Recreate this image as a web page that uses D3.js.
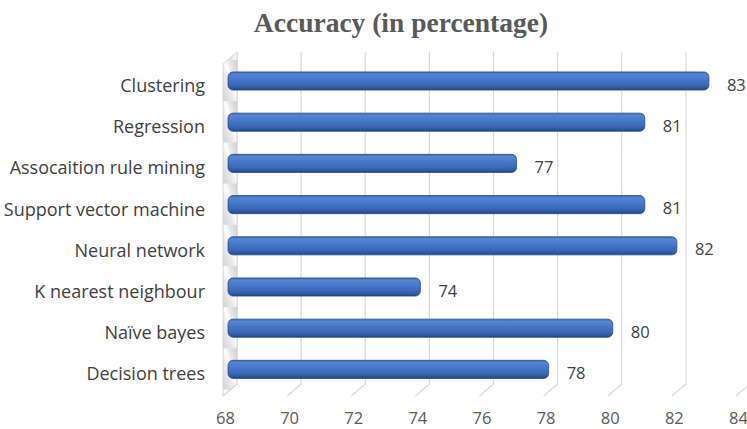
<!DOCTYPE html>
<html>
<head>
<meta charset="utf-8">
<script src="https://cdn.jsdelivr.net/npm/d3@7"></script>
<style>
  html, body { margin: 0; padding: 0; background: #fff; }
  svg { display: block; }
</style>
</head>
<body>
<script>
// Accuracy of data-mining techniques (percent)
const categories = [
  "Clustering",
  "Regression",
  "Assocaition rule mining",
  "Support vector machine",
  "Neural network",
  "K nearest neighbour",
  "Naïve bayes",
  "Decision trees"
];
const accuracy = [83, 81, 77, 81, 82, 74, 80, 78];
const tickValues = [68, 70, 72, 74, 76, 78, 80, 82, 84];
const chartTitle = "Accuracy (in percentage)";

const W = 747, H = 429;
const svg = d3.select("body").append("svg").attr("width", W).attr("height", H);

const labelFont = "'Open Sans', Lato, sans-serif";

// 3D box: front face, back wall and depth offset between them
const depthDx = 14, depthDy = -12;
const floorFrontY = 396;
const floorBackY = floorFrontY + depthDy;
const wallTopBack = 52;

const xFront = d3.scaleLinear().domain([68, 84]).range([223, 736]);
const xBack = v => xFront(v) + depthDx;
const xBar = d3.scaleLinear().domain([68, 84]).range([228, 741]);

const y = d3.scaleBand().domain(categories).range([60.4, 390]).paddingInner(0.56).paddingOuter(0.28);

const defs = svg.append("defs");

// cylinder shading for bars
const barGrad = defs.append("linearGradient").attr("id", "barGrad")
  .attr("x1", 0).attr("y1", 0).attr("x2", 0).attr("y2", 1);
[[0, "#3a64ad"], [0.12, "#5585d3"], [0.35, "#4a7acb"], [0.7, "#3c69b9"], [0.9, "#2d569f"], [1, "#1f3f78"]]
  .forEach(([o, c]) => barGrad.append("stop").attr("offset", o).attr("stop-color", c));

// side wall shading: light grey with diagonal highlights
const wallPat = defs.append("pattern").attr("id", "wallPat")
  .attr("patternUnits", "userSpaceOnUse").attr("width", 14).attr("height", 41.2)
  .attr("x", 223).attr("y", 60);
const wallGrad = defs.append("linearGradient").attr("id", "wallGrad")
  .attr("x1", 0).attr("y1", 1).attr("x2", 1).attr("y2", 0);
[[0, "#d4d4d4"], [0.4, "#ececec"], [0.55, "#ffffff"], [0.7, "#e8e8e8"], [1, "#cfcfcf"]]
  .forEach(([o, c]) => wallGrad.append("stop").attr("offset", o).attr("stop-color", c));
wallPat.append("rect").attr("width", 14).attr("height", 41.2).attr("fill", "url(#wallGrad)");

// title
svg.append("text")
  .attr("x", 401).attr("y", 32)
  .attr("text-anchor", "middle")
  .attr("font-family", "'Liberation Serif', 'Times New Roman', serif")
  .attr("font-weight", "bold")
  .attr("font-size", 27.5)
  .attr("fill", "#595959")
  .text(chartTitle);

// back-wall gridlines and their floor ticks
const grid = svg.append("g").attr("stroke", "#d9d9d9").attr("stroke-width", 1.2).attr("fill", "none");
grid.selectAll("path").data(tickValues).join("path")
  .attr("d", v => `M${xBack(v)},${wallTopBack} L${xBack(v)},${floorBackY} L${xFront(v)},${floorFrontY}`);

// left side wall
svg.append("path")
  .attr("d", `M${xFront(68)},${floorFrontY} L${xFront(68)},${wallTopBack - depthDy} L${xBack(68)},${wallTopBack} L${xBack(68)},${floorBackY} Z`)
  .attr("fill", "url(#wallPat)")
  .attr("stroke", "#d0d0d0").attr("stroke-width", 0.8);

// bars
const bh = y.bandwidth();
svg.append("g").selectAll("rect").data(categories).join("rect")
  .attr("x", xBar(68))
  .attr("y", d => y(d))
  .attr("width", (d, i) => xBar(accuracy[i]) - xBar(68))
  .attr("height", bh)
  .attr("rx", 5).attr("ry", 5)
  .attr("fill", "url(#barGrad)")
  .attr("stroke", "#2b4f8e").attr("stroke-width", 0.8);

// category labels
svg.append("g").selectAll("text").data(categories).join("text")
  .attr("x", 205)
  .attr("y", d => y(d) + bh / 2 + 4)
  .attr("text-anchor", "end")
  .attr("dominant-baseline", "central")
  .attr("font-family", labelFont)
  .attr("font-size", 18)
  .attr("fill", "#404040")
  .text(d => d);

// value labels
svg.append("g").selectAll("text").data(categories).join("text")
  .attr("x", (d, i) => xBar(accuracy[i]) + 18)
  .attr("y", d => y(d) + bh / 2 + 3)
  .attr("dominant-baseline", "central")
  .attr("font-family", labelFont)
  .attr("font-size", 16.5)
  .attr("fill", "#404040")
  .text((d, i) => accuracy[i]);

// axis tick labels along the front edge of the floor
const axis = d3.axisBottom(xFront).tickValues(tickValues).tickSize(0).tickPadding(0);
const axisG = svg.append("g").attr("transform", `translate(2,${floorFrontY + 16})`).call(axis);
axisG.select(".domain").remove();
axisG.selectAll("text")
  .attr("font-family", labelFont)
  .attr("font-size", 16.5)
  .attr("fill", "#595959");
</script>
</body>
</html>
